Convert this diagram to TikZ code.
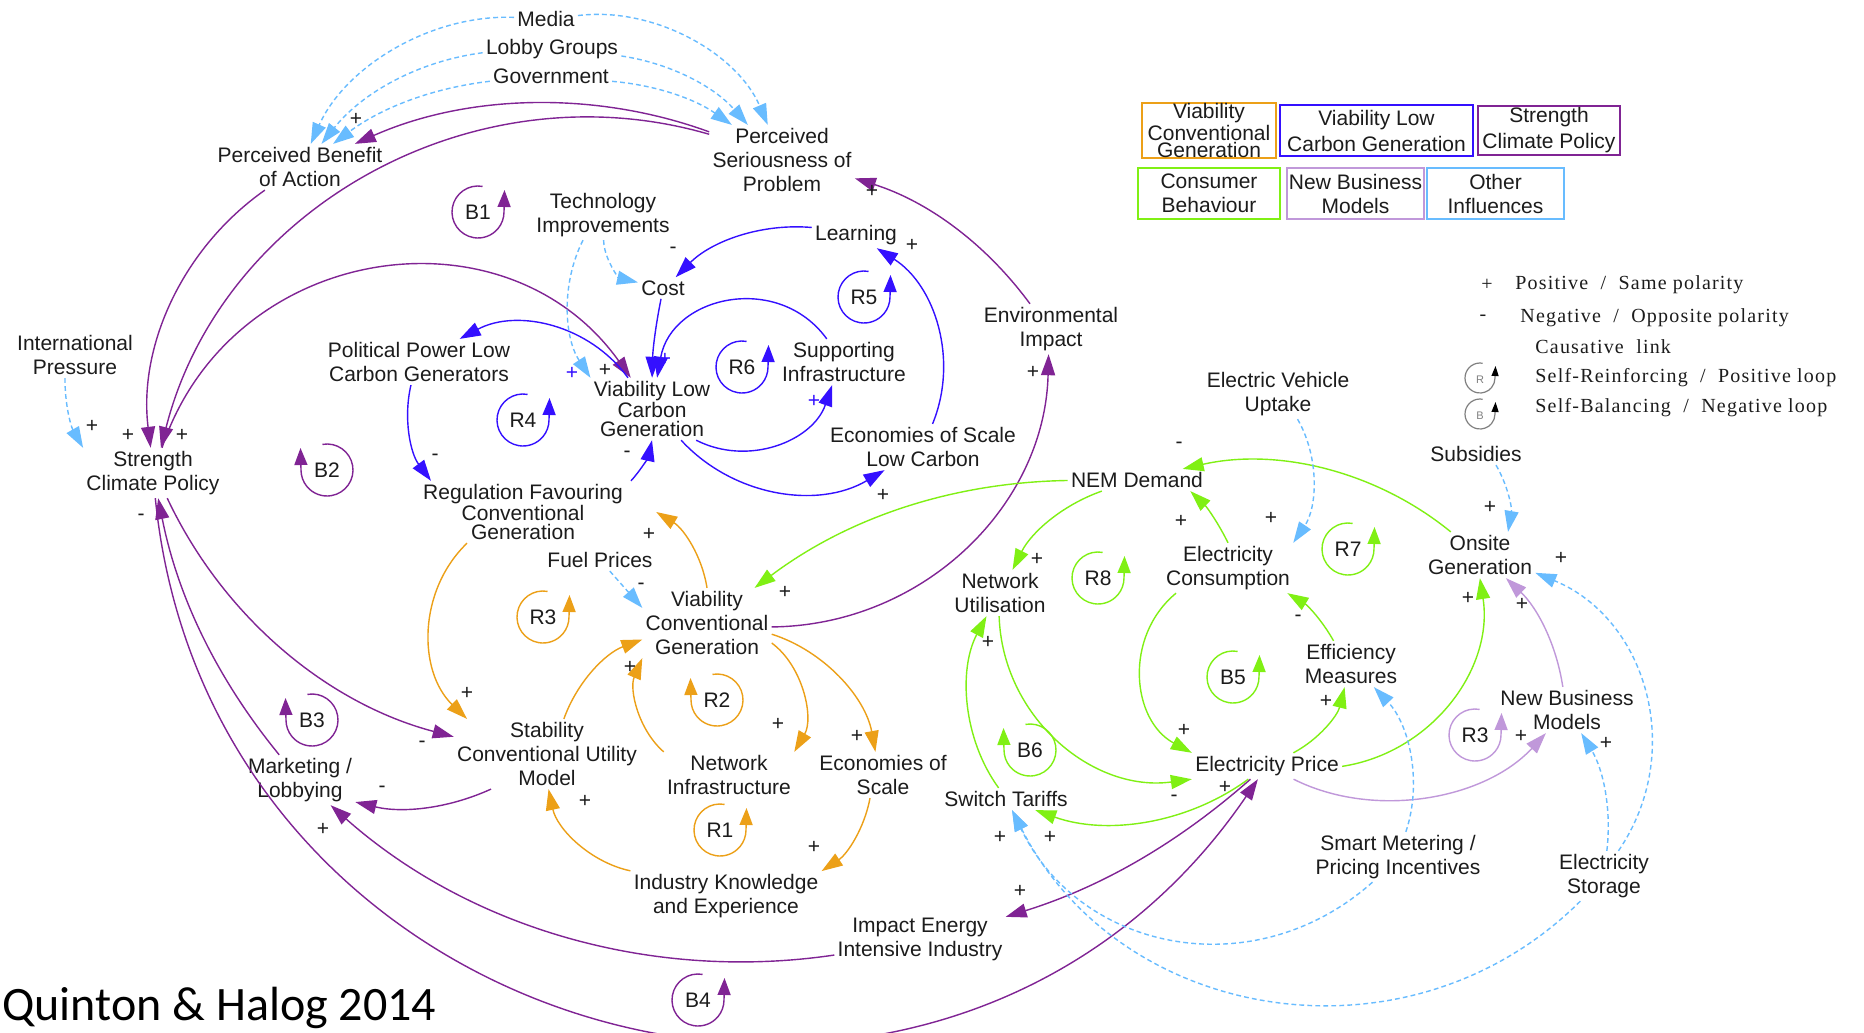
\documentclass[tikz,border=0pt]{standalone}
\usepackage{fontspec}
\setmainfont{Liberation Sans}
\newfontfamily\legserif{Liberation Serif}[LetterSpace=6]
\newfontfamily\titlesans{Carlito}
\usetikzlibrary{arrows.meta}

\definecolor{cPur}{RGB}{128,36,148}
\definecolor{cBlu}{RGB}{52,16,255}
\definecolor{cOra}{RGB}{236,160,24}
\definecolor{cGre}{RGB}{128,240,20}
\definecolor{cLpu}{RGB}{192,152,218}
\definecolor{cLbl}{RGB}{104,188,255}
\definecolor{cTxt}{RGB}{28,28,28}

\newcommand\nodefont{\fontsize{10.5}{12}\selectfont}
\newcommand\tightfont{\fontsize{10.5}{9.3}\selectfont}
\newcommand\legtight{\fontsize{10.5}{7}\selectfont}
\newcommand\legmid{\fontsize{10.5}{13}\selectfont}

% loop markers: arrow on the right (lpR) or on the left (lpL), tip pointing up
\newcommand\lpR[5]{%
  \draw[looparc,color=#5] (#2,-#3) ++(80:26) arc[start angle=80,end angle=360,radius=26] -- ++(0.5,22);
  \node[v] (#1) at (#2,-#3) {#4};}
\newcommand\lpL[5]{%
  \draw[looparc,color=#5] (#2,-#3) ++(100:26) arc[start angle=100,end angle=-180,radius=26] -- ++(-0.5,22);
  \node[v] (#1) at (#2,-#3) {#4};}

\begin{document}
\begin{tikzpicture}[x=0.5pt,y=0.5pt,
  v/.style={font=\nodefont,text=cTxt,align=center,inner sep=1.5pt},
  vt/.style={v,font=\tightfont},
  sg/.style={font=\nodefont,text=cTxt,inner sep=0pt},
  lnk/.style={line width=0.7pt,-{Triangle[length=10.5pt,width=7pt]},looseness=0.9},
  pu/.style={lnk,color=cPur},
  bl/.style={lnk,color=cBlu},
  or/.style={lnk,color=cOra},
  gr/.style={lnk,color=cGre},
  lp/.style={lnk,color=cLpu},
  db/.style={lnk,color=cLbl,dash pattern=on 2.4pt off 1.6pt},
  looparc/.style={line width=0.7pt,-{Triangle[length=8.5pt,width=6.5pt]}},
  lgb/.style={v,draw,line width=1pt,inner sep=0pt},
  lgt/.style={font=\legserif\fontsize{10}{12}\selectfont,text=cTxt,inner sep=0pt},
]
\useasboundingbox (0,0) rectangle (1864,-1033);
\clip (0,0) rectangle (1864,-1033);
\fill[white] (0,0) rectangle (1864,-1033);

% ---------- variables ----------
\node[v] (media) at (546,-19) {Media};
\node[v] (lobby) at (552,-49) {Lobby Groups};
\node[v] (gov) at (551,-76) {Government};
\node[v] (pben) at (300,-167) {Perceived Benefit\\of Action};
\node[v] (pser) at (782,-160) {Perceived\\Seriousness of\\Problem};
\node[v] (tech) at (603,-215) {Technology\\Improvements};
\node[v] (learn) at (856,-235) {Learning};
\node[v] (cost) at (663,-288) {Cost};
\node[v] (supp) at (844,-362) {Supporting\\Infrastructure};
\node[vt] (vlc) at (652,-409) {Viability Low\\Carbon\\Generation};
\node[v] (polp) at (419,-362) {Political Power Low\\Carbon Generators};
\node[v] (intp) at (75,-355) {International\\Pressure};
\node[v] (scp) at (153,-473) {Strength\\Climate Policy};
\node[v] (envi) at (1051,-329) {Environmental\\Impact};
\node[v] (eoslc) at (923,-447) {Economies of Scale\\Low Carbon};
\node[v] (evu) at (1278,-394) {Electric Vehicle\\Uptake};
\node[v] (nem) at (1137,-480) {NEM Demand};
\node[vt] (reg) at (523,-512) {Regulation Favouring\\Conventional\\Generation};
\node[v] (fuel) at (600,-560) {Fuel Prices};
\node[v] (vcg) at (707,-623) {Viability\\Conventional\\Generation};
\node[v] (netu) at (1000,-593) {Network\\Utilisation};
\node[v] (econ) at (1228,-568) {Electricity\\Consumption};
\node[v] (onsite) at (1480,-555) {Onsite\\Generation};
\node[v] (subs) at (1476,-454) {Subsidies};
\node[v] (effm) at (1351,-664) {Efficiency\\Measures};
\node[v] (stab) at (547,-754) {Stability\\Conventional Utility\\Model};
\node[v] (mark) at (300,-780) {Marketing /\\Lobbying};
\node[v] (neti) at (729,-775) {Network\\Infrastructure};
\node[v] (eos) at (883,-775) {Economies of\\Scale};
\node[v] (swt) at (1006,-799) {Switch Tariffs};
\node[v] (eprice) at (1267,-766) {Electricity Price};
\node[v] (nbm) at (1567,-710) {New Business\\Models};
\node[v] (ike) at (726,-896) {Industry Knowledge\\and Experience};
\node[v] (smart) at (1398,-857) {Smart Metering /\\Pricing Incentives};
\node[v] (estor) at (1604,-876) {Electricity\\Storage};
\node[v] (impact) at (920,-939) {Impact Energy\\Intensive Industry};

% ---------- climate policy links ----------
\draw[pu] (pser) to[bend right=22,looseness=.88] (pben);
\draw[pu] (pser) to[bend right=46,looseness=1] (scp);
\draw[pu] (pben) to[bend right=31,looseness=.92] (scp);
\draw[pu] (scp) to[bend left=63,looseness=1.17] (vlc);
\draw[pu] (scp) to[bend right=25] (stab);
\draw[pu] ([xshift=-28pt]stab.south) to[bend left=19] (mark);
\draw[pu] (mark) to[bend left=14] (scp);
\draw[pu] (impact) to[bend left=25] (mark);
\draw[pu] (scp) to[bend right=70,looseness=1.26] (eprice);
\draw[pu] (eprice) to[bend left=12] (impact);
\draw[pu] (vcg) to[bend right=44,looseness=1] (envi);
\draw[pu] (envi) to[bend right=18] (pser);

% ---------- low carbon links ----------
\draw[bl] (learn) to[bend right=25] (cost);
\draw[bl] (cost) to[bend right=5] (vlc);
\draw[bl] (supp) to[bend right=67,looseness=1.22] (vlc);
\draw[bl] (vlc) to[bend right=49,looseness=1.03] (supp);
\draw[bl] (vlc) to[bend right=39,looseness=.96] (eoslc);
\draw[bl] (eoslc) to[bend right=40,looseness=.96] (learn);
\draw[bl] (vlc) to[bend right=41,looseness=.97] (polp);
\draw[bl] (polp) to[bend right=25] ([xshift=-46pt]reg.north);
\draw[bl] ([xshift=54pt]reg.north) to[bend right=15] (vlc.south);

% ---------- conventional generation links ----------
\draw[or] (vcg.north) to[bend right=25] ([xshift=15pt]reg.east);
\draw[or] ([xshift=-28pt]reg.south) to[bend right=46,looseness=1] ([xshift=-40pt]stab.north);
\draw[or] (stab) to[bend left=25] (vcg);
\draw[or] (neti.north west) to[bend left=36] (vcg.south west);
\draw[or] ([yshift=-10pt]vcg.east) to[bend left=42] (neti.north east);
\draw[or] (vcg) to[bend left=31] (eos);
\draw[or] (eos) to[bend left=23] (ike);
\draw[or] (ike.north west) to[bend left=33] (stab);

% ---------- consumer behaviour links ----------
\draw[gr] (nem) to[bend right=18] (vcg);
\draw[gr] (nem) to[bend right=22] (netu);
\draw[gr] (econ.north) to[bend right=10] ([xshift=-8pt]nem.south east);
\draw[gr] (onsite) to[bend right=26] (nem);
\draw[gr] (netu) to[bend right=48,looseness=1.02] (eprice.south west);
\draw[gr] ([xshift=-26pt]econ.south) to[bend right=56,looseness=1.09] (eprice.north west);
\draw[gr] (eprice) to[bend left=28] (swt);
\draw[gr] (swt) to[bend left=32] (netu);
\draw[gr] (effm) to[bend right=15] (econ);
\draw[gr] (eprice) to[bend right=24] (effm);
\draw[gr] (eprice) to[bend right=45,looseness=1] (onsite);

% ---------- new business model links ----------
\draw[lp] (eprice) to[bend right=37] (nbm);
\draw[lp] (nbm) to[bend right=19] (onsite);

% ---------- other influences ----------
\draw[db] (media) to[bend right=34] (pben);
\draw[db] (lobby) to[bend right=22] (pben);
\draw[db] (gov) to[bend right=15] (pben);
\draw[db] (media) to[bend left=37] (pser);
\draw[db] (lobby) to[bend left=20] (pser);
\draw[db] (gov) to[bend left=15] (pser);
\draw[db] (tech) to[bend right=38] (cost);
\draw[db] ([xshift=-10pt]tech.south) to[bend right=30] (vlc.north west);
\draw[db] ([xshift=-5pt]intp.south) to[bend right=15] (scp.north west);
\draw[db] (fuel) -- ([yshift=-10pt]vcg.north west);
\draw[db] (evu) to[bend left=32] (econ.north east);
\draw[db] ([xshift=10pt]subs.south) to[bend left=20] ([xshift=14pt]onsite.north);
\draw[db] (estor) to[bend right=51,looseness=1.06] (onsite);
\draw[db] (estor) to[bend right=19] (nbm);
\draw[db] (smart) to[bend right=31] (effm);
\draw[db] (smart) to[bend left=53,looseness=1.1] (swt);
\draw[db] (estor) to[bend left=54,looseness=1.07] (swt);

% ---------- loop markers ----------
\lpR{lB1}{478}{212}{B1}{cPur}
\lpR{lR5}{864}{297}{R5}{cBlu}
\lpR{lR6}{742}{367}{R6}{cBlu}
\lpR{lR4}{523}{420}{R4}{cBlu}
\lpL{lB2}{327}{470}{B2}{cPur}
\lpR{lR3}{543}{617}{R3}{cOra}
\lpL{lR2}{717}{700}{R2}{cOra}
\lpR{lR1}{720}{830}{R1}{cOra}
\lpL{lB3}{312}{720}{B3}{cPur}
\lpR{lB4}{698}{1000}{B4}{cPur}
\lpR{lR8}{1098}{578}{R8}{cGre}
\lpR{lR7}{1348}{549}{R7}{cGre}
\lpR{lB5}{1233}{677}{B5}{cGre}
\lpL{lB6}{1030}{750}{B6}{cGre}
\lpR{lR3b}{1475}{735}{R3}{cLpu}

% ---------- polarity signs ----------
\node[sg] (s01) at (356,-119) {+};
\node[sg] (s02) at (92,-426) {+};
\node[sg] (s03) at (128,-435) {+};
\node[sg] (s04) at (182,-435) {+};
\node[sg] (s05) at (141,-517) {-};
\node[sg] (s06) at (872,-191) {+};
\node[sg] (s07) at (673,-250) {-};
\node[sg] (s08) at (912,-245) {+};
\node[sg,text=cBlu] (s09) at (665,-359) {+};
\node[sg] (s10) at (605,-370) {+};
\node[sg,text=cBlu] (s11) at (572,-373) {+};
\node[sg,text=cBlu] (s12) at (814,-401) {+};
\node[sg] (s13) at (883,-495) {+};
\node[sg] (s14) at (1033,-372) {+};
\node[sg] (s15) at (435,-457) {-};
\node[sg] (s16) at (627,-454) {-};
\node[sg] (s17) at (649,-534) {+};
\node[sg] (s18) at (641,-586) {-};
\node[sg] (s19) at (785,-592) {+};
\node[sg] (s20) at (467,-693) {+};
\node[sg] (s21) at (630,-667) {+};
\node[sg] (s22) at (778,-724) {+};
\node[sg] (s23) at (857,-736) {+};
\node[sg] (s24) at (814,-847) {+};
\node[sg] (s25) at (585,-801) {+};
\node[sg] (s26) at (422,-744) {-};
\node[sg] (s27) at (382,-789) {-};
\node[sg] (s28) at (323,-829) {+};
\node[sg] (s29) at (1020,-891) {+};
\node[sg] (s30) at (1225,-787) {+};
\node[sg] (s31) at (1174,-798) {-};
\node[sg] (s32) at (1000,-837) {+};
\node[sg] (s33) at (1050,-837) {+};
\node[sg] (s34) at (988,-642) {+};
\node[sg] (s35) at (1037,-559) {+};
\node[sg] (s36) at (1181,-521) {+};
\node[sg] (s37) at (1179,-445) {-};
\node[sg] (s38) at (1271,-518) {+};
\node[sg] (s39) at (1298,-618) {-};
\node[sg] (s40) at (1184,-730) {+};
\node[sg] (s41) at (1326,-701) {+};
\node[sg] (s42) at (1468,-598) {+};
\node[sg] (s43) at (1522,-604) {+};
\node[sg] (s44) at (1490,-507) {+};
\node[sg] (s45) at (1561,-558) {+};
\node[sg] (s46) at (1521,-736) {+};
\node[sg] (s47) at (1606,-743) {+};

% ---------- colour key ----------
\node[lgb,draw=cOra,minimum width=67pt,minimum height=26.5pt,font=\legtight] (lg1) at (1209,-130.5) {Viability\\Conventional\\Generation};
\node[lgb,draw=cBlu,minimum width=96.5pt,minimum height=25.5pt,font=\legmid] (lg2) at (1376.5,-130.5) {Viability Low\\Carbon Generation};
\node[lgb,draw=cPur,minimum width=71pt,minimum height=24.5pt,font=\legmid] (lg3) at (1549,-130.5) {Strength\\Climate Policy};
\node[lgb,draw=cGre,minimum width=71pt,minimum height=25.5pt] (lg4) at (1209,-193.5) {Consumer\\Behaviour};
\node[lgb,draw=cLpu,minimum width=68.5pt,minimum height=25.5pt] (lg5) at (1355.5,-193.5) {New Business\\Models};
\node[lgb,draw=cLbl,minimum width=68.5pt,minimum height=25.5pt] (lg6) at (1495.5,-193.5) {Other\\Influences};

% ---------- notation key ----------
\node[lgt] (kplus) at (1487,-285) {+};
\node[lgt,anchor=west] (kpos) at (1515,-285) {Positive\ \ /\ \ Same polarity};
\node[lgt] (kminus) at (1483,-318) {-};
\node[lgt,anchor=west] (kneg) at (1520,-318) {Negative\ \ /\ \ Opposite polarity};
\node[lgt,anchor=west] (kcaus) at (1535,-347) {Causative\ \ link};
\node[lgt,anchor=west] (kre) at (1535,-378) {Self-Reinforcing\ \ /\ \ Positive loop};
\node[lgt,anchor=west] (kba) at (1535,-408) {Self-Balancing\ \ /\ \ Negative loop};
\draw[gray,line width=0.6pt,-{Triangle[length=5pt,width=3.5pt,color=black]}] (1480,-378) ++(80:15) arc[start angle=80,end angle=360,radius=15] -- ++(0.5,12);
\node[font=\fontsize{5.5}{6}\selectfont,text=gray,inner sep=0pt] (kR) at (1480,-380) {R};
\draw[gray,line width=0.6pt,-{Triangle[length=5pt,width=3.5pt,color=black]}] (1480,-414) ++(80:15) arc[start angle=80,end angle=360,radius=15] -- ++(0.5,12);
\node[font=\fontsize{5.5}{6}\selectfont,text=gray,inner sep=0pt] (kB) at (1480,-416) {B};

% ---------- source ----------
\node[anchor=base west,font=\titlesans\fontsize{24}{28}\selectfont,inner sep=0pt,text=black] (src) at (2,-1020) {Quinton \& Halog 2014};
\end{tikzpicture}
\end{document}
